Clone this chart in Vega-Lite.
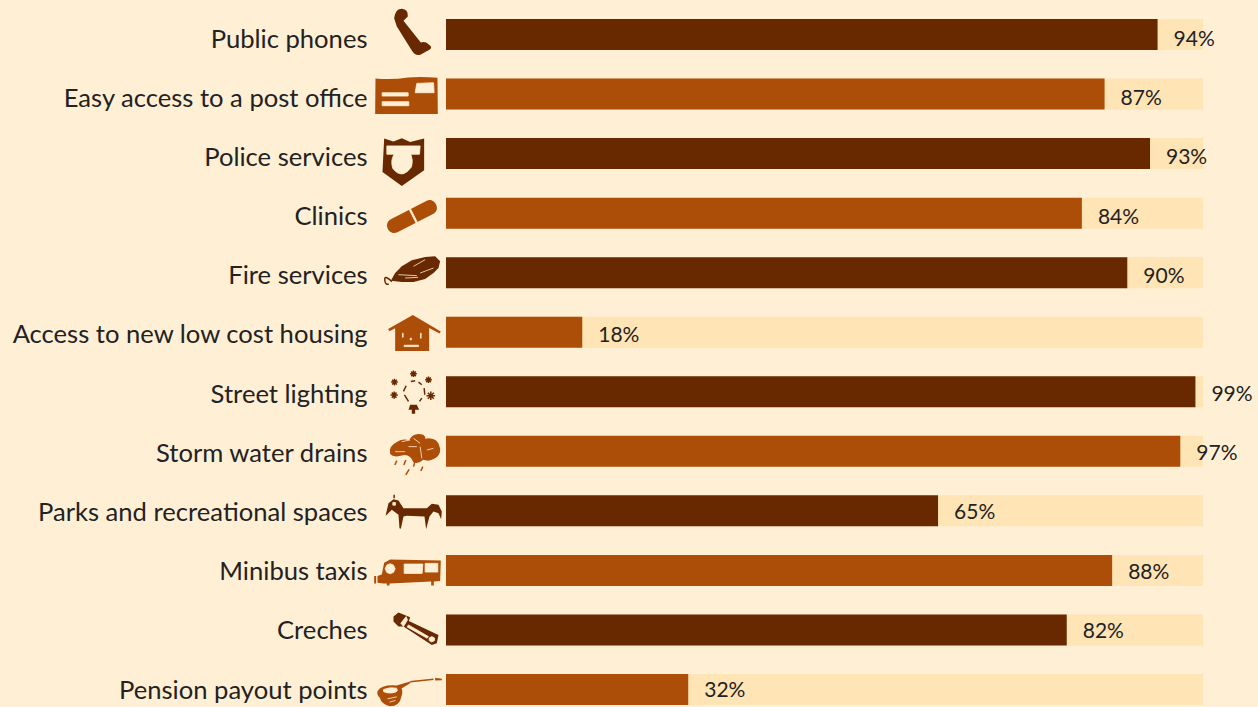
{
"width":757,"height":688,
"autosize":{"type":"none"},
"padding":{"left":446,"top":18,"right":55,"bottom":1},
"background":"#FFEFD5",
"config":{"view":{"stroke":null}},
"data":{"values":[
{"service":"Public phones","share":0.94},
{"service":"Easy access to a post office","share":0.87},
{"service":"Police services","share":0.93},
{"service":"Clinics","share":0.84},
{"service":"Fire services","share":0.90},
{"service":"Access to new low cost housing","share":0.18},
{"service":"Street lighting","share":0.99},
{"service":"Storm water drains","share":0.97},
{"service":"Parks and recreational spaces","share":0.65},
{"service":"Minibus taxis","share":0.88},
{"service":"Creches","share":0.82},
{"service":"Pension payout points","share":0.32}
]},
"resolve":{"scale":{"y":"independent","shape":"independent"}},
"layer":[
 {"mark":{"type":"bar","color":"#FFE4B5"},
  "encoding":{
   "y":{"field":"service","type":"nominal","axis":null,"sort":null,"scale":{"type":"band","paddingInner":0.479,"paddingOuter":0.0168}},
   "x":{"datum":1,"type":"quantitative","scale":{"domain":[0,1],"nice":false},"axis":null}}},
 {"mark":{"type":"bar"},
  "encoding":{
   "y":{"field":"service","type":"nominal","axis":null,"sort":null,"scale":{"type":"band","paddingInner":0.479,"paddingOuter":0.0168}},
   "x":{"field":"share","type":"quantitative","scale":{"domain":[0,1],"nice":false},"axis":null},
   "color":{"field":"service","type":"nominal","legend":null,"sort":null,
    "scale":{"domain":["Public phones","Easy access to a post office","Police services","Clinics","Fire services","Access to new low cost housing","Street lighting","Storm water drains","Parks and recreational spaces","Minibus taxis","Creches","Pension payout points"],
    "range":["#692900","#AD4E08","#692900","#AD4E08","#692900","#AD4E08","#692900","#AD4E08","#692900","#AD4E08","#692900","#AD4E08"]}}}},
 {"mark":{"type":"point","filled":true,"opacity":1,"size":0.4444,"strokeWidth":0},
  "encoding":{
   "y":{"field":"service","type":"nominal","axis":null,"sort":null,"scale":{"type":"band","paddingInner":0.479,"paddingOuter":0.0168}},
   "x":{"datum":-0.05,"type":"quantitative","axis":null},
   "color":{"field":"service","type":"nominal","legend":null,"sort":null},
   "shape":{"field":"service","type":"nominal","legend":null,"sort":null,"scale":{
    "domain":["Public phones","Easy access to a post office","Police services","Clinics","Fire services","Access to new low cost housing","Street lighting","Storm water drains","Parks and recreational spaces","Minibus taxis","Creches","Pension payout points"],
    "range":[
    "M-42,-49Q-38,-77 -19,-77Q1,-75 -1,-54L-14,-41L38,24Q52,20 61,29Q75,38 65,45L38,60Q22,66 11,48L-34,-24Z",
    "M-98,-47Q-50,-42 0,-50Q45,-52 88,-49L89,60L-99,60Z",
    "M-72,-45L-44,-36L-19,-46L6,-35L48,-45L48,50L-19,97L-77,55Z",
    "M-52,18.5L56,-37.5C78,-49 100,-12 76,1.5L-32,57.5C-58,70 -76,31 -52,18.5Z",
    "M-52,24L-39,1L-19,-19L11,-37L51,-47L81,-49L96,-34L91,-14L76,1L51,19L16,28L-19,28Z",
    "M-60,-10L14,-52L98,-2L94,4L63,-13L63,56L-39,56L-39,-12L-56,-3Z",
    "M6,39L26,39L33,54L21,54L21,66L11,66L11,54L1,54Z",
    "M-54,8Q-60,-15 -35,-27Q-20,-40 3,-33Q15,-58 45,-50Q55,-42 50,-38Q90,-45 96,-8Q98,20 60,28L45,25Q30,40 15,32Q5,8 -15,12Q-45,20 -54,8Z",
    "M-67,12L-59,-23L-44,-35L-29,-31L-14,-8L56,-8L71,-21L91,-18L101,2L99,25L91,7L76,2L64,17L54,55L49,17L-4,15L-14,17L-22,54L-26,52L-29,12L-49,-3L-67,15Z",
    "M-92,17L-79,12L-72,-23L-54,-33L98,-30L96,32L77,33L77,45L69,45L69,33L-56,39L-56,45L-64,45L-64,39L-74,39L-92,37ZM-102,17L-96,17L-96,39L-102,39Z",
    "M-44,-40L-29,-52L6,-38L2,-27L91,15L86,40L71,45L-14,-10L-29,-10L-44,-25Z",
    "M-92,5Q-80,-15 -35,-12L6,-24L6,-19L-20,-3Q-15,5 -20,20Q-25,50 -55,50Q-80,45 -85,25Q-95,15 -92,5ZM81,-35L101,-32L101,-28L81,-27Z"
    ]}}}},
 {"mark":{"type":"point","filled":true,"opacity":1,"size":0.4444,"color":"#FFEFD5","stroke":"#FFEFD5","strokeWidth":0.8},
  "encoding":{
   "y":{"field":"service","type":"nominal","axis":null,"sort":null,"scale":{"type":"band","paddingInner":0.479,"paddingOuter":0.0168}},
   "x":{"datum":-0.05,"type":"quantitative","axis":null},
   "shape":{"field":"service","type":"nominal","legend":null,"sort":null,"scale":{
    "domain":["Public phones","Easy access to a post office","Police services","Clinics","Fire services","Access to new low cost housing","Street lighting","Storm water drains","Parks and recreational spaces","Minibus taxis","Creches","Pension payout points"],
    "range":[
    "M0,0",
    "M26,-32L76,-34L78,-4L21,-4ZM-78,-4L0,-4L0,6L-78,6ZM-78,23L2,23L2,35L-78,35Z",
    "M-64,-23L36,-23L34,2L8,2Q16,20 10,40Q-19,80 -46,45Q-54,20 -42,2L-64,2Z",
    "M1,-15L5,-17L28,28L24,30Z",
    "M16,-19L51,-39M-29,6L26,9M36,1L76,-14M-9,16L30,14",
    "M-17,3L-15,3L-15,15L-17,15ZM37,3L39,3L39,18L37,18ZM6,18L10,18L10,23L6,23ZM-12,39L31,39L31,43L-12,43Z",
    "M0,0",
    "M-39,1L-9,1M16,-39L36,-24M36,-14L41,21M1,-14L26,-14M56,-4L76,-9M-19,-29L6,-34",
    "M-46,-25L-38,-25L-38,-17L-46,-17Z",
    "M-64,-16L-54,-20L-44,-16L-39,-5L-44,6L-54,10L-64,6L-69,-5ZM-12,-19L44,-19L42,9L-12,9ZM51,-21L89,-21L89,5L51,5Z",
    "M-22,-20L-6,-40L-2,-30L-14,-10ZM1,-15L61,20L57,25L-3,-9ZM71,20L79,24L79,32L71,36L63,32L63,24Z",
    "M-74,0Q-55,-8 -35,-4Q-28,4 -38,8Q-60,14 -74,6ZM-62,28L-34,22M-56,38L-38,33"
    ]}}}},
 {"mark":{"type":"point","filled":false,"opacity":1,"size":0.4444,"strokeWidth":1.5},
  "encoding":{
   "y":{"field":"service","type":"nominal","axis":null,"sort":null,"scale":{"type":"band","paddingInner":0.479,"paddingOuter":0.0168}},
   "x":{"datum":-0.05,"type":"quantitative","axis":null},
   "color":{"field":"service","type":"nominal","legend":null,"sort":null},
   "shape":{"field":"service","type":"nominal","legend":null,"sort":null,"scale":{
    "domain":["Public phones","Easy access to a post office","Police services","Clinics","Fire services","Access to new low cost housing","Street lighting","Storm water drains","Parks and recreational spaces","Minibus taxis","Creches","Pension payout points"],
    "range":[
    "M0,0","M0,0","M0,0","M0,0",
    "M-49,27Q-72,5 -70,22Q-70,36 -58,35",
    "M0,0",
    "M6,-54L26,-54M9,-61L23,-47M23,-61L9,-47M16,-64L16,-44M51,-36L71,-36M54,-43L68,-29M68,-43L54,-29M61,-46L61,-26M-51,-29L-31,-29M-48,-36L-34,-22M-34,-36L-48,-22M-41,-39L-41,-19M-53,10L-31,10M-49,2L-35,18M-35,2L-49,18M-42,-1L-42,21M55,12L81,12M59,3L77,21M77,3L59,21M68,-1L68,25M8,-31L21,-33M31,-29L41,-21M48,-11L50,9M41,19L34,29M-6,-18L-14,-1M-11,9L1,29",
    "M-34,28L-40,41M-7,26L-13,41M21,28L16,46M44,46L38,59M3,54L-7,71",
    "M-42,-48L-42,-38",
    "M0,0","M0,0",
    "M6,-23L76,-31"
    ]}}}},
 {"mark":{"type":"text","align":"left","baseline":"middle","dx":16,"dy":1,"font":"Lato","fontSize":21,"color":"#222222"},
  "encoding":{
   "y":{"field":"service","type":"nominal","sort":null,
    "scale":{"type":"point","padding":0.3125,"align":0.568},
    "axis":{"title":null,"domain":false,"ticks":false,"labelPadding":79,"labelFont":"Lato","labelFontSize":25.6,"labelColor":"#222222","labelLimit":440}},
   "x":{"field":"share","type":"quantitative","scale":{"domain":[0,1],"nice":false},"axis":null},
   "text":{"field":"share","type":"quantitative","format":".0%"}}}
]}
